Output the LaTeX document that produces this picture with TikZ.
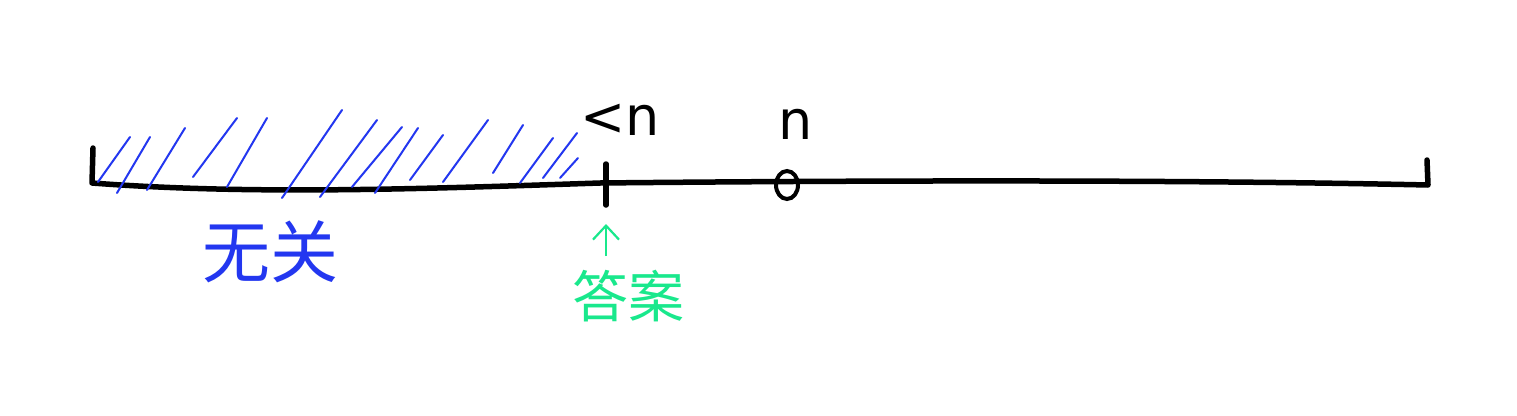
\documentclass[tikz,border=0pt]{standalone}
\usepackage{fontspec}
\usetikzlibrary{arrows.meta}
\setmainfont{DejaVu Sans}
\newfontfamily\cjk{Noto Sans CJK SC}
\definecolor{hatchblue}{RGB}{35,55,240}
\definecolor{answergreen}{RGB}{25,232,140}
\begin{document}
\begin{tikzpicture}[
			x=1pt, y=-1pt,
			axis/.style={line width=5.5pt, line cap=round, line join=round},
			hatch/.style={hatchblue, line width=2pt, line cap=round},
			lbl/.style={inner sep=0pt, font=\fontsize{54}{54}\selectfont},
			cjklbl/.style={inner sep=0pt, font=\cjk\fontsize{56}{56}\selectfont}
		]
		\useasboundingbox[fill=white] (0,0) rectangle (1517,415);
		% number line
		\draw[axis] (93,148) -- (92,183)
			.. controls (250,195) and (420,189) .. (600,183)
			.. controls (900,180) and (1200,180) .. (1428,185) -- (1427,160);
		% shaded part
		\foreach \xa/\ya/\xb/\yb in {98/182/130/137, 117/193/150/137, 147/190/185/128,
				193/177/237/118, 227/187/267/118, 282/198/342/110, 320/197/377/120,
				352/187/402/127, 375/193/418/128, 410/180/443/135, 443/182/488/120,
				493/173/523/125, 520/183/553/138, 543/178/577/133, 560/178/578/158}
			\draw[hatch] (\xa,\ya) -- (\xb,\yb);
		% tick and point
		\coordinate (tickTop) at (606,164);
		\coordinate (tickBot) at (606,205);
		\draw[axis] (tickTop) -- (tickBot);
		\draw[line width=4pt] (787,185) ellipse (11 and 14);
		\node[lbl] (lessN) at (620,120) {<n};
		\node[lbl] (valN) at (796,124) {n};
		% labels below
		\node[cjklbl, hatchblue, font=\cjk\fontsize{68}{68}\selectfont] (unrelated) at (270,252) {无关};
		\node[cjklbl, answergreen, anchor=north] (answer) at (628,270) {答案};
		\coordinate (arrowStart) at (606,256);
		\coordinate (arrowTip) at (606,224);
		\draw[answergreen, line width=2.2pt, -{Straight Barb[length=14pt,width=26pt]}]
			(arrowStart) -- (arrowTip);
	\end{tikzpicture}
\end{document}
